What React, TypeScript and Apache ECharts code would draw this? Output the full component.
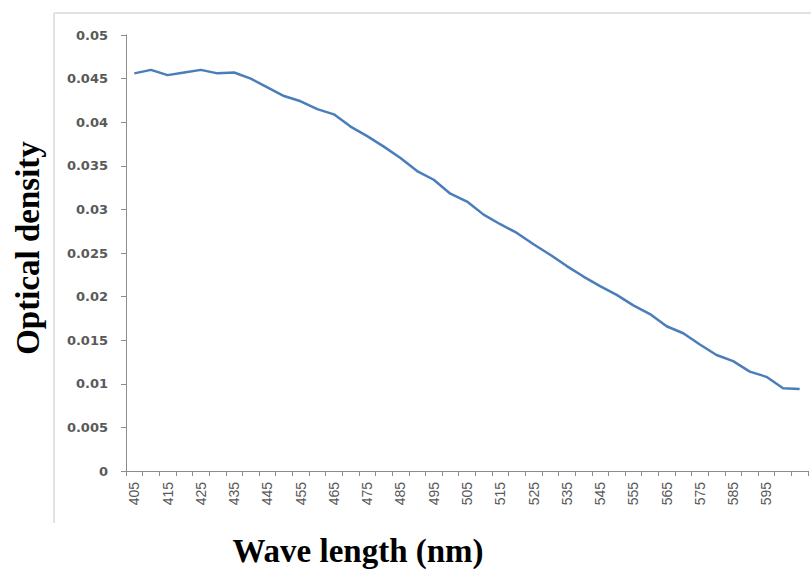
import React, { useEffect, useRef } from "react";
import * as echarts from "echarts";

const wavelengths: string[] = [
  "405", "410", "415", "420", "425", "430", "435", "440", "445", "450",
  "455", "460", "465", "470", "475", "480", "485", "490", "495", "500",
  "505", "510", "515", "520", "525", "530", "535", "540", "545", "550",
  "555", "560", "565", "570", "575", "580", "585", "590", "595", "600", "605",
];

const opticalDensity: number[] = [
  0.0456, 0.046, 0.0454, 0.0457, 0.046, 0.0456, 0.0457, 0.045, 0.044, 0.043,
  0.0424, 0.0415, 0.0409, 0.0395, 0.0384, 0.0372, 0.0359, 0.0344, 0.0334, 0.0318,
  0.0309, 0.0294, 0.0283, 0.0273, 0.026, 0.0248, 0.0235, 0.0223, 0.0212, 0.0202,
  0.019, 0.018, 0.0166, 0.0158, 0.0145, 0.0133, 0.0126, 0.0114, 0.0108, 0.0095, 0.0094,
];

const yAxisTitle = "Optical density";
const xAxisTitle = "Wave length (nm)";

export default function App() {
  const ref = useRef<HTMLDivElement>(null);
  useEffect(() => {
    if (!ref.current) return;
    const chart = echarts.init(ref.current, null, { renderer: "svg" });
    chart.setOption({
      animation: false,
      backgroundColor: "#ffffff",
      grid: { left: 126, right: 3, top: 35, bottom: 99, containLabel: false },
      xAxis: {
        type: "category",
        data: wavelengths,
        boundaryGap: true,
        axisLine: { show: true, lineStyle: { color: "#8c8c8c", width: 1 } },
        axisTick: { show: true, interval: 0, length: 5, lineStyle: { color: "#8c8c8c" } },
        axisLabel: {
          interval: (i: number) => i % 2 === 0 && i < wavelengths.length - 1,
          rotate: 90,
          fontSize: 14,
          margin: 11,
          color: "#595959",
          fontFamily: "Liberation Sans",
        },
        splitLine: { show: false },
      },
      yAxis: {
        type: "value",
        min: 0,
        max: 0.05,
        interval: 0.005,
        axisLine: { show: true, lineStyle: { color: "#8c8c8c", width: 1 } },
        axisTick: { show: true, length: 5, lineStyle: { color: "#8c8c8c" } },
        axisLabel: {
          formatter: (v: number) => String(+v.toFixed(3)),
          fontSize: 13,
          fontWeight: "bold",
          color: "#595959",
          fontFamily: "DejaVu Sans",
          margin: 18,
        },
        splitLine: { show: false },
      },
      series: [
        {
          type: "line",
          data: opticalDensity,
          showSymbol: false,
          symbol: "none",
          lineStyle: { color: "#4A7EBB", width: 2.5 },
          itemStyle: { color: "#4A7EBB" },
        },
      ],
      graphic: [
        { type: "line", shape: { x1: 54, y1: 13, x2: 811, y2: 13 }, style: { stroke: "#d9d9d9", lineWidth: 1.5 } },
        { type: "line", shape: { x1: 54, y1: 13, x2: 54, y2: 523 }, style: { stroke: "#d9d9d9", lineWidth: 1.5 } },
        {
          type: "text",
          x: 28,
          y: 248,
          rotation: Math.PI / 2,
          style: {
            text: yAxisTitle,
            font: "bold 33px 'Liberation Serif'",
            fill: "#000000",
            textAlign: "center",
            textVerticalAlign: "middle",
          },
        },
        {
          type: "text",
          x: 358,
          y: 551,
          style: {
            text: xAxisTitle,
            font: "bold 33px 'Liberation Serif'",
            fill: "#000000",
            textAlign: "center",
            textVerticalAlign: "middle",
          },
        },
      ],
    });
    return () => chart.dispose();
  }, []);
  return <div ref={ref} style={{ position: "absolute", left: 0, top: 0, width: 811, height: 570 }} />;
}
